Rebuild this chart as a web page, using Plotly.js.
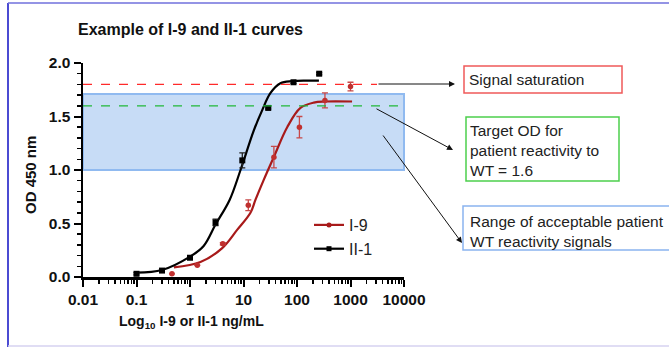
<!DOCTYPE html>
<html>
<head>
<meta charset="utf-8">
<script src="https://cdn.plot.ly/plotly-3.0.1.min.js"></script>
<style>html,body{margin:0;padding:0;background:#fff;}#chart{width:669px;height:347px;}</style>
</head>
<body>
<div id="chart"></div>
<script>
// ---- data ----
const ii1X   = [0.1, 0.3, 1, 3, 9.5, 29, 86, 260];
const ii1Y   = [0.03, 0.06, 0.18, 0.51, 1.09, 1.58, 1.82, 1.90];
const ii1Err = [0.01, 0.01, 0.01, 0.03, 0.07, 0.01, 0.01, 0.01];

const i9X   = [0.46, 1.37, 4.1, 12.3, 37, 111, 333, 1000];
const i9Y   = [0.03, 0.11, 0.31, 0.67, 1.12, 1.40, 1.65, 1.78];
const i9Err = [0, 0, 0.01, 0.05, 0.10, 0.10, 0.07, 0.04];

const ii1CurveX = [0.1, 0.3, 1, 1.8, 3, 5.5, 8.8, 15.6, 22.4, 32, 49, 81, 150, 257];
const ii1CurveY = [0.04, 0.065, 0.19, 0.29, 0.49, 0.72, 1.0, 1.37, 1.56, 1.72, 1.81, 1.83, 1.835, 1.835];

const i9CurveX = [0.5, 1.57, 4, 7.6, 13.5, 16.7, 24, 36.8, 65.6, 116, 206, 337, 1070];
const i9CurveY = [0.09, 0.14, 0.27, 0.44, 0.6, 0.72, 0.91, 1.12, 1.40, 1.58, 1.63, 1.64, 1.64];

const xTickVals = [0.01, 0.1, 1, 10, 100, 1000, 10000];
const xTickText = ['0.01', '0.1', '1', '10', '100', '1000', '10000'];

const saturationLevel = 1.8;
const targetLevel = 1.6;
const bandLow = 1.0, bandHigh = 1.71;

const seriesNames = ['I-9', 'II-1'];
const titleText = 'Example of I-9 and II-1 curves';
const xTitleText = 'Log<sub>10</sub> I-9 or II-1 ng/mL';
const yTitleText = 'OD 450 nm';
const boxTexts = ['Signal saturation', 'Target OD for<br>patient reactivity to<br>WT = 1.6', 'Range of acceptable patient<br>WT reactivity signals'];

// ---- layout geometry ----
const W = 669, H = 347;
const L = 83, T = 63, PW = 321, PH = 214;
const px = v => (v - L) / PW;
const py = v => (T + PH - v) / PH;

const RED = '#a81a1a', REDPT = '#c0302f', BLACK = '#000000';
const FONT = 'Liberation Sans, Arial, sans-serif';

const traces = [
  {x: i9CurveX, y: i9CurveY, mode: 'lines', line: {color: RED, width: 2.2, shape: 'spline', smoothing: 1}, showlegend: false, hoverinfo: 'skip'},
  {x: ii1CurveX, y: ii1CurveY, mode: 'lines', line: {color: BLACK, width: 2.2, shape: 'spline', smoothing: 1}, showlegend: false, hoverinfo: 'skip'},
  {x: i9X, y: i9Y, mode: 'markers', marker: {symbol: 'circle', size: 5.5, color: REDPT},
   error_y: {type: 'data', array: i9Err, visible: true, color: '#c84848', thickness: 1.3, width: 3}, showlegend: false, cliponaxis: false},
  {x: ii1X, y: ii1Y, mode: 'markers', marker: {symbol: 'square', size: 6, color: BLACK},
   error_y: {type: 'data', array: ii1Err, visible: true, color: '#222', thickness: 1.3, width: 3}, showlegend: false, cliponaxis: false},
  {x: [null], y: [null], mode: 'lines+markers', name: seriesNames[0], line: {color: RED, width: 2.2}, marker: {symbol: 'circle', size: 5, color: RED}},
  {x: [null], y: [null], mode: 'lines+markers', name: seriesNames[1], line: {color: BLACK, width: 2.2}, marker: {symbol: 'square', size: 5, color: BLACK}}
];

const shapes = [
  // image frame
  {type: 'line', xref: 'paper', yref: 'paper', x0: px(8), x1: px(8), y0: py(3), y1: py(348), line: {color: '#4b4bd2', width: 2}},
  {type: 'line', xref: 'paper', yref: 'paper', x0: px(8), x1: px(670), y0: py(3), y1: py(3), line: {color: '#7070dc', width: 1.5}},
  {type: 'line', xref: 'paper', yref: 'paper', x0: px(8), x1: px(670), y0: py(346), y1: py(346), line: {color: '#d6d2f0', width: 1.5}},
  // band
  {type: 'rect', xref: 'paper', yref: 'y', x0: 0, x1: 1, y0: bandLow, y1: bandHigh, fillcolor: '#c7dcf6', line: {color: '#90baf0', width: 2}, layer: 'below'},
  // reference lines
  {type: 'line', xref: 'paper', yref: 'y', x0: 0, x1: px(377), y0: saturationLevel, y1: saturationLevel, line: {color: '#ff2a2a', width: 1.2, dash: 'dash'}},
  {type: 'line', xref: 'paper', yref: 'y', x0: 0, x1: 1, y0: targetLevel, y1: targetLevel, line: {color: '#22b838', width: 1.2, dash: 'dash'}},
  // callout boxes
  {type: 'rect', xref: 'paper', yref: 'paper', x0: px(464), x1: px(622), y0: py(66), y1: py(93), line: {color: '#f05a5a', width: 1.5}},
  {type: 'rect', xref: 'paper', yref: 'paper', x0: px(466), x1: px(619), y0: py(117), y1: py(181), line: {color: '#4cd04c', width: 1.5}},
  {type: 'rect', xref: 'paper', yref: 'paper', x0: px(463), x1: px(672), y0: py(206), y1: py(250), line: {color: '#8ab4f0', width: 1.5}}
];

const ann = [];
ann.push({xref: 'paper', yref: 'paper', x: px(190), y: py(30), text: '<b>' + titleText + '</b>', showarrow: false,
  font: {family: FONT, size: 16, color: '#111'}, xanchor: 'center', yanchor: 'middle'});
ann.push({xref: 'paper', yref: 'paper', x: px(191), y: py(322), text: '<b>' + xTitleText + '</b>', showarrow: false,
  font: {family: FONT, size: 14, color: '#111'}, xanchor: 'center', yanchor: 'middle'});
ann.push({xref: 'paper', yref: 'paper', x: px(30), y: py(175), text: '<b>' + yTitleText + '</b>', showarrow: false, textangle: -90,
  font: {family: FONT, size: 15, color: '#111'}, xanchor: 'center', yanchor: 'middle'});
// arrows
const arrows = [[455, 84, 377, 84], [453, 150, 375, 108], [462, 243, 382, 134]];
arrows.forEach(a => ann.push({xref: 'paper', yref: 'paper', x: px(a[0]), y: py(a[1]), ax: a[2] - a[0], ay: a[3] - a[1],
  text: '', showarrow: true, arrowhead: 2, arrowsize: 1.2, arrowwidth: 1, arrowcolor: '#111', standoff: 0}));
// box texts
ann.push({xref: 'paper', yref: 'paper', x: px(467), y: py(79), text: boxTexts[0], showarrow: false, xanchor: 'left', yanchor: 'middle', align: 'left',
  font: {family: FONT, size: 15.5, color: '#222'}});
ann.push({xref: 'paper', yref: 'paper', x: px(468), y: py(150), text: boxTexts[1], showarrow: false, xanchor: 'left', yanchor: 'middle', align: 'left',
  font: {family: FONT, size: 15.5, color: '#222'}});
ann.push({xref: 'paper', yref: 'paper', x: px(468), y: py(231.5), text: boxTexts[2], showarrow: false, xanchor: 'left', yanchor: 'middle', align: 'left',
  font: {family: FONT, size: 15.5, color: '#222'}});

const layout = {
  width: W, height: H,
  margin: {l: L, r: W - L - PW, t: T, b: H - T - PH, pad: 0},
  paper_bgcolor: '#fff', plot_bgcolor: 'rgba(0,0,0,0)',
  font: {family: FONT, color: '#111'},
  showlegend: true,
  legend: {x: px(309), y: py(208), xanchor: 'left', yanchor: 'top', bgcolor: 'rgba(0,0,0,0)',
    font: {family: FONT, size: 16, color: '#222'}, itemwidth: 30},
  xaxis: {type: 'log', range: [-2, 4], tickmode: 'array', tickvals: xTickVals, ticktext: xTickText,
    showline: true, linecolor: '#000', linewidth: 2.5, ticks: 'outside', ticklen: 7, tickwidth: 2, tickcolor: '#000',
    showgrid: false, zeroline: false,
    tickfont: {family: FONT, size: 15.5, color: '#111', weight: 'bold'},
    minor: {dtick: 'D1', ticks: 'outside', ticklen: 4, tickwidth: 1.5, tickcolor: '#000', showgrid: false}},
  yaxis: {range: [0, 2], dtick: 0.5, tick0: 0, tickformat: '.1f',
    showline: true, linecolor: '#000', linewidth: 2.5, ticks: 'outside', ticklen: 7, tickwidth: 2, tickcolor: '#000',
    showgrid: false, zeroline: false,
    tickfont: {family: FONT, size: 15.5, color: '#111', weight: 'bold'},
    minor: {dtick: 0.1, ticks: 'outside', ticklen: 4, tickwidth: 1.5, tickcolor: '#000', showgrid: false}},
  shapes: shapes,
  annotations: ann
};

Plotly.newPlot('chart', traces, layout, {staticPlot: true, displayModeBar: false});
</script>
</body>
</html>
